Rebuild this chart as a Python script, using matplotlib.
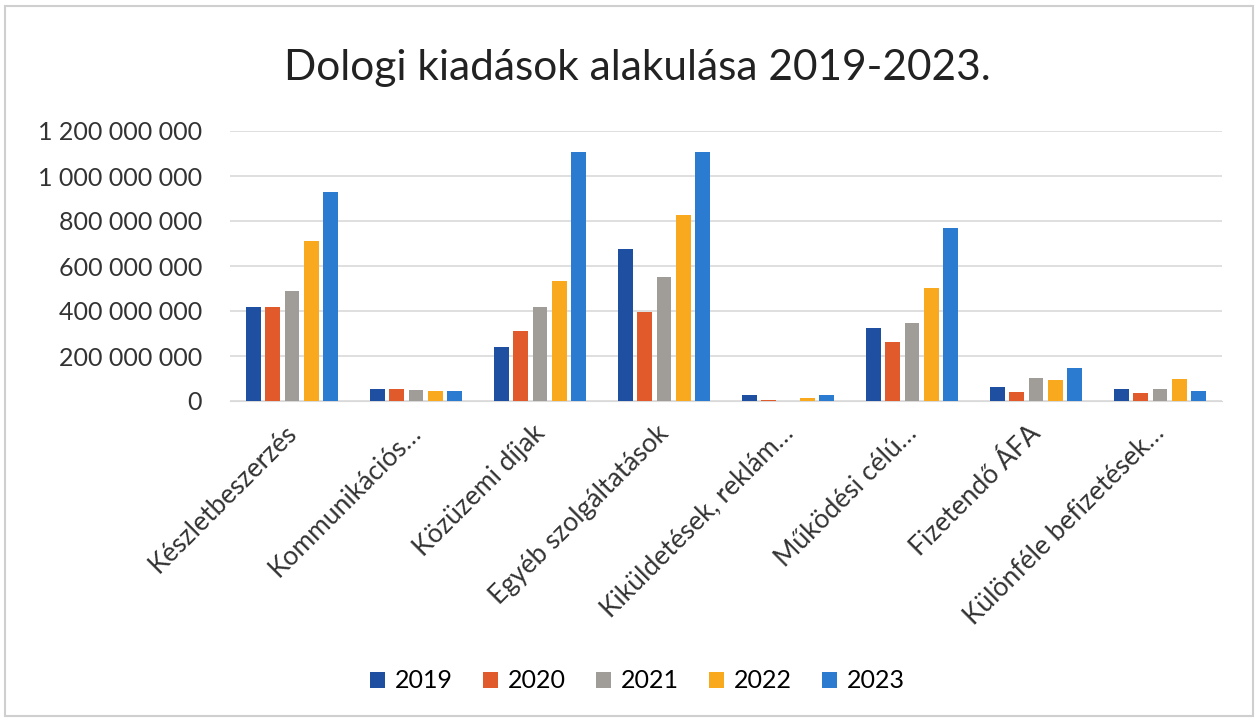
import numpy as np
import matplotlib
matplotlib.use("Agg")
import matplotlib.pyplot as plt
import matplotlib.transforms as mtransforms
from matplotlib.patches import Rectangle

plt.rcParams['font.family'] = ['Lato', 'DejaVu Sans']

categories = ["Készletbeszerzés", "Kommunikációs…", "Közüzemi díjak", "Egyéb szolgáltatások",
              "Kiküldetések, reklám…", "Működési célú…", "Fizetendő ÁFA", "Különféle befizetések…"]
years = ["2019", "2020", "2021", "2022", "2023"]

v2019 = [419e6, 52e6, 241e6, 675e6, 25e6, 323e6, 62e6, 54e6]
v2020 = [420e6, 52e6, 309e6, 394e6, 5e6, 261e6, 40e6, 34e6]
v2021 = [490e6, 51e6, 419e6, 552e6, 0, 345e6, 103e6, 54e6]
v2022 = [712e6, 46e6, 534e6, 826e6, 15e6, 503e6, 92e6, 100e6]
v2023 = [930e6, 44e6, 1107e6, 1107e6, 25e6, 767e6, 147e6, 45e6]

colors = ["#1f4fa0", "#e05a2b", "#a09c98", "#f8a91e", "#2b7bd1"]

fig = plt.figure(figsize=(12.59, 7.22), dpi=100)
ax = fig.add_axes([230/1259, 1 - 401/722, (1222-230)/1259, (401-131)/722])

x = np.arange(len(categories))
step = 0.155
w = 0.12
for i, (vals, c, yr) in enumerate(zip([v2019, v2020, v2021, v2022, v2023], colors, years)):
    ax.bar(x + (i - 2) * step, vals, width=w, color=c, label=yr, zorder=3)

ax.set_xlim(-0.5, len(categories) - 0.5)
ax.set_ylim(0, 1.2e9)
ticks = np.arange(0, 1.2e9 + 1, 2e8)
ax.set_yticks(ticks)
ax.set_yticklabels(["0" if t == 0 else f"{int(t):,}".replace(",", " ") for t in ticks],
                   fontsize=18, color="#333333")
ax.grid(axis="y", color="#d9d9d9", linewidth=1.2, zorder=0)
for s in ["top", "right", "left"]:
    ax.spines[s].set_visible(False)
ax.spines["bottom"].set_color("#d9d9d9")
ax.tick_params(axis="y", length=0, pad=20)
ax.tick_params(axis="x", length=0, pad=14)
ax.set_xticks(x)
ax.set_xticklabels(categories, rotation=45, ha="right", rotation_mode="anchor",
                   fontsize=19, color="#333333")
# nudge the rotated labels a bit left
shift = mtransforms.ScaledTranslation(-8/100, 0, fig.dpi_scale_trans)
for lbl in ax.get_xticklabels():
    lbl.set_transform(lbl.get_transform() + shift)

fig.text(637/1259, 1 - 68/722, "Dologi kiadások alakulása 2019-2023.", ha="center", va="center",
         fontsize=30.5, color="#222222")

fig.legend(loc="center", bbox_to_anchor=(637/1259, 1 - 681/722), ncol=5, frameon=False,
           fontsize=18, handlelength=0.6, handleheight=0.6, handletextpad=0.4, columnspacing=1.2)

fig.patches.append(Rectangle((5/1259, 6/722), 1248/1259, 710/722, transform=fig.transFigure,
                             fill=False, edgecolor="#cfcfcf", linewidth=1.5))

fig.savefig("out.png", dpi=100)
